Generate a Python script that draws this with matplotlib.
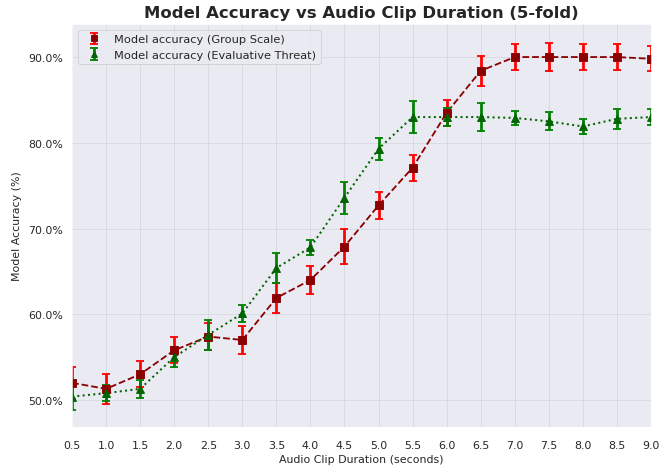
import numpy as np
import matplotlib
matplotlib.use("Agg")
import matplotlib.pyplot as plt
import seaborn as sns
from matplotlib.ticker import FuncFormatter

# clip durations (seconds)
durations = [0.5, 1.0, 1.5, 2.0, 2.5, 3.0, 3.5, 4.0, 4.5,
             5.0, 5.5, 6.0, 6.5, 7.0, 7.5, 8.0, 8.5, 9.0]

# Group Scale accuracy (%) and std over folds
group_acc = [52.0, 51.3, 53.0, 55.8, 57.4, 57.0, 61.9, 64.0, 67.9,
             72.7, 77.1, 83.5, 88.4, 90.0, 90.0, 90.0, 90.0, 89.8]
group_err = [1.85, 1.75, 1.5, 1.5, 1.55, 1.6, 1.75, 1.65, 2.05,
             1.6, 1.5, 1.5, 1.75, 1.55, 1.65, 1.55, 1.5, 1.45]

# Evaluative Threat accuracy (%) and std over folds
threat_acc = [50.4, 50.8, 51.3, 55.0, 57.6, 60.1, 65.4, 67.8, 73.6,
              79.3, 83.0, 83.0, 83.0, 82.9, 82.5, 81.9, 82.8, 83.0]
threat_err = [1.55, 0.9, 1.05, 1.15, 1.75, 1.0, 1.75, 0.92, 1.85,
              1.3, 1.9, 1.1, 1.6, 0.85, 1.05, 0.9, 1.15, 0.9]

sns.set_style("darkgrid")
plt.rcParams['font.family'] = ['DejaVu Sans']

fig = plt.figure(figsize=(10, 7.162), dpi=65.9)
ax = fig.add_axes([0.1093, 0.0932, 0.8786, 0.8538])

# connecting lines (no legend entry)
ax.plot(durations, group_acc, '--', color='darkred', linewidth=2)
ax.plot(durations, threat_acc, ':', color='darkgreen', linewidth=2.2)

# points with error bars
ax.errorbar(durations, group_acc, yerr=group_err, fmt='s', color='darkred',
            ecolor='red', elinewidth=3, capsize=4, capthick=2,
            markersize=8, label='Model accuracy (Group Scale)')
ax.errorbar(durations, threat_acc, yerr=threat_err, fmt='^', color='darkgreen',
            ecolor='green', elinewidth=3, capsize=4, capthick=2,
            markersize=8, label='Model accuracy (Evaluative Threat)')

ax.set_title('Model Accuracy vs Audio Clip Duration (5-fold)',
             fontsize=18, fontweight='bold', pad=8)
ax.set_xlabel('Audio Clip Duration (seconds)', fontsize=12)
ax.set_ylabel('Model Accuracy (%)', fontsize=12, labelpad=7)
ax.set_xticks(durations)
ax.set_xlim(0.5, 9.0)
ax.set_ylim(46.85, 93.85)
ax.set_yticks([50, 60, 70, 80, 90])
ax.yaxis.set_major_formatter(FuncFormatter(lambda v, p: f'{v:.1f}%'))
ax.tick_params(labelsize=12)
ax.tick_params(axis='x', pad=11)
ax.tick_params(axis='y', pad=6)
ax.grid(True, color='#c8c8d0', alpha=0.6)
ax.legend(loc='upper left', fontsize=12.4, frameon=True, markerscale=0.75)

fig.savefig('out.png', dpi=65.9)
